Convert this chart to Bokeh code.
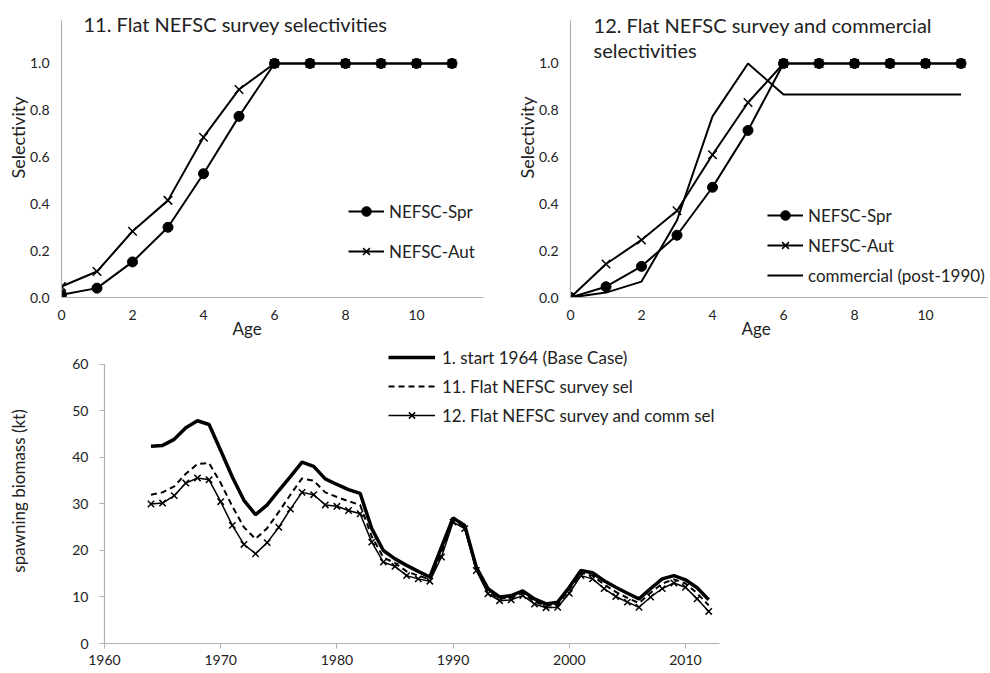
from bokeh.plotting import figure
from bokeh.models import (Range1d, FixedTicker, Label, Legend, LegendItem,
                          NumeralTickFormatter, Title)
from bokeh.layouts import column, row
from bokeh.embed import file_html
from bokeh.resources import INLINE

FONT = "Lato"
GREY = "#b0b0b0"
TXT = "#222222"

# ---------------- data ----------------
ages = [0, 1, 2, 3, 4, 5, 6, 7, 8, 9, 10, 11]
spr_11 = [0.012, 0.04, 0.152, 0.30, 0.529, 0.774, 1.0, 1.0, 1.0, 1.0, 1.0, 1.0]
aut_11 = [0.047, 0.111, 0.283, 0.415, 0.685, 0.889, 1.0, 1.0, 1.0, 1.0, 1.0, 1.0]
spr_12 = [0.0, 0.046, 0.133, 0.266, 0.471, 0.714, 1.0, 1.0, 1.0, 1.0, 1.0, 1.0]
aut_12 = [0.0, 0.143, 0.246, 0.371, 0.61, 0.833, 1.0, 1.0, 1.0, 1.0, 1.0, 1.0]
comm_12 = [0.0, 0.021, 0.068, 0.33, 0.774, 1.0, 0.867, 0.867, 0.867, 0.867, 0.867, 0.867]
age_ticks = [0, 2, 4, 6, 8, 10]
sel_ticks = [0.0, 0.2, 0.4, 0.6, 0.8, 1.0]

years = list(range(1964, 2013))
base_case = [42.4, 42.6, 43.9, 46.4, 47.9, 47.1, 41.5, 35.8, 30.8, 27.7,
             29.8, 32.9, 35.9, 39.0, 38.1, 35.4, 34.2, 33.1, 32.3, 24.7,
             20.0, 18.2, 16.8, 15.5, 14.3, 20.7, 27.0, 25.4, 16.4, 11.8,
             10.0, 10.3, 11.3, 9.6, 8.5, 8.9, 12.1, 15.7, 15.2, 13.5,
             12.1, 10.8, 9.6, 11.8, 13.9, 14.6, 13.7, 12.0, 9.4]
flat_survey = [32.0, 32.5, 33.8, 36.5, 38.6, 38.8, 34.5, 29.5, 25.0, 22.5,
               24.8, 28.3, 32.0, 35.5, 35.0, 32.5, 31.5, 30.6, 29.8, 23.0,
               18.5, 17.3, 15.5, 14.6, 13.8, 19.5, 26.6, 25.0, 16.0, 11.2,
               9.6, 9.9, 10.8, 9.0, 8.1, 8.3, 11.5, 15.2, 14.6, 12.7,
               11.1, 9.8, 8.7, 10.9, 12.9, 13.8, 12.9, 10.8, 8.2]
flat_survey_comm = [30.0, 30.2, 31.8, 34.5, 35.6, 35.2, 30.5, 25.4, 21.3, 19.3,
                    21.7, 25.0, 28.9, 32.5, 32.0, 29.8, 29.5, 28.6, 27.9, 21.8,
                    17.5, 16.6, 14.6, 13.9, 13.4, 18.6, 26.1, 24.7, 15.7, 10.7,
                    9.2, 9.4, 10.3, 8.5, 7.7, 7.8, 10.8, 14.6, 13.9, 11.8,
                    10.1, 8.9, 7.8, 10.0, 11.8, 13.0, 12.1, 9.6, 6.9]
year_ticks = [1960, 1970, 1980, 1990, 2000, 2010]
ssb_ticks = [0, 10, 20, 30, 40, 50, 60]


def style(p, ticks_out=0, xstand=12, ystand=12):
    p.outline_line_color = None
    p.xgrid.visible = False
    p.ygrid.visible = False
    p.background_fill_color = "white"
    p.border_fill_color = "white"
    for ax in (p.xaxis[0], p.yaxis[0]):
        ax.axis_line_color = GREY
        ax.axis_line_width = 1.2
        ax.major_tick_line_color = GREY if ticks_out else None
        ax.major_tick_out = ticks_out
        ax.major_tick_in = 0
        ax.minor_tick_line_color = None
        ax.major_label_text_font = FONT
        ax.major_label_text_font_size = "14px"
        ax.major_label_text_color = TXT
    p.xaxis[0].major_label_standoff = xstand
    p.yaxis[0].major_label_standoff = ystand


def side_title(p, s, side, offset, standoff, size, valign):
    p.add_layout(Title(text=s, align="left", offset=offset, standoff=standoff,
                       text_font=FONT, text_font_size=size, text_font_style="normal",
                       text_color=TXT, vertical_align=valign), side)


def selectivity_panel(xmax, xbound, left, title_lines, series, leg_loc, leg_spacing):
    p = figure(width=495, height=338, output_backend="svg", toolbar_location=None,
               x_range=Range1d(0, xmax), y_range=Range1d(0, 1.269),
               min_border_left=left, min_border_right=0,
               min_border_top=0, min_border_bottom=41)
    style(p)
    p.xaxis[0].ticker = FixedTicker(ticks=age_ticks)
    p.yaxis[0].ticker = FixedTicker(ticks=sel_ticks)
    p.yaxis[0].formatter = NumeralTickFormatter(format="0.0")
    p.xaxis[0].bounds = (0, xbound)
    p.yaxis[0].bounds = (0, 1.184)
    items = []
    for label, vals, marker in series:
        r = [p.line(ages, vals, line_color="black", line_width=2)]
        if marker == "circle":
            r.append(p.scatter(ages, vals, marker="circle", size=10,
                               fill_color="black", line_color="black"))
        elif marker == "x":
            r.append(p.scatter(ages, vals, marker="x", size=12,
                               line_color="black", line_width=1.5))
        items.append(LegendItem(label=label, renderers=r))
    leg = Legend(items=items, location=leg_loc, border_line_color=None,
                 background_fill_alpha=0, padding=0, margin=0,
                 label_text_font=FONT, label_text_font_size="17px",
                 label_text_color=TXT, glyph_width=36, glyph_height=24,
                 label_height=24, spacing=leg_spacing, label_standoff=5)
    p.add_layout(leg)
    for s, x, y in title_lines:
        p.add_layout(Label(x=x, y=y, text=s, text_font=FONT, text_font_size="20px",
                           text_color=TXT, text_align="left", text_baseline="alphabetic"))
    side_title(p, "Selectivity", "left", 119, -4, "18px", "bottom")
    side_title(p, "Age", "below", 171, -10, "17px", "top")
    return p


p1 = selectivity_panel(
    12.225, 11.89, 61,
    [("11. Flat NEFSC survey selectivities", 0.62, 1.1667)],
    [("NEFSC-Spr", spr_11, "circle"), ("NEFSC-Aut", aut_11, "x")],
    (287, 34), 16)

p2 = selectivity_panel(
    11.83, 11.75, 75,
    [("12. Flat NEFSC survey and commercial", 0.65, 1.1624),
     ("selectivities", 0.65, 1.0556)],
    [("NEFSC-Spr", spr_12, "circle"), ("NEFSC-Aut", aut_12, "x"),
     ("commercial (post-1990)", comm_12, None)],
    (197, 10), 6)

# ---------------- bottom panel ----------------
p3 = figure(width=990, height=335, output_backend="svg", toolbar_location=None,
            x_range=Range1d(1960, 2036.25), y_range=Range1d(0, 65.59),
            min_border_left=104, min_border_right=0,
            min_border_top=0, min_border_bottom=30)
style(p3, ticks_out=5, xstand=6, ystand=11)
p3.xaxis[0].ticker = FixedTicker(ticks=year_ticks)
p3.yaxis[0].ticker = FixedTicker(ticks=ssb_ticks)
p3.xaxis[0].bounds = (1960, 2012.93)
p3.yaxis[0].bounds = (0, 60)
p3.yaxis[0].axis_label = "spawning biomass (kt)"
p3.yaxis[0].axis_label_text_font = FONT
p3.yaxis[0].axis_label_text_font_size = "17px"
p3.yaxis[0].axis_label_text_font_style = "normal"
p3.yaxis[0].axis_label_text_color = TXT
p3.yaxis[0].axis_label_standoff = 40

r_base = p3.line(years, base_case, line_color="black", line_width=3.5)
r_flat = p3.line(years, flat_survey, line_color="black", line_width=2, line_dash="6 4")
r_comm_l = p3.line(years, flat_survey_comm, line_color="black", line_width=1.5)
r_comm_m = p3.scatter(years, flat_survey_comm, marker="x", size=9,
                      line_color="black", line_width=1.5)

leg3 = Legend(items=[
    LegendItem(label="1. start 1964 (Base Case)", renderers=[r_base]),
    LegendItem(label="11. Flat NEFSC survey sel", renderers=[r_flat]),
    LegendItem(label="12. Flat NEFSC survey and comm sel", renderers=[r_comm_l, r_comm_m]),
], location=(284, 217), border_line_color=None, background_fill_alpha=0,
    padding=0, margin=0, label_text_font=FONT, label_text_font_size="17px",
    label_text_color=TXT, glyph_width=47, glyph_height=22, label_height=22,
    spacing=7, label_standoff=7)
p3.add_layout(leg3)

layout = column(row(p1, p2), p3)
open("out.html", "w").write(file_html(layout, INLINE))
